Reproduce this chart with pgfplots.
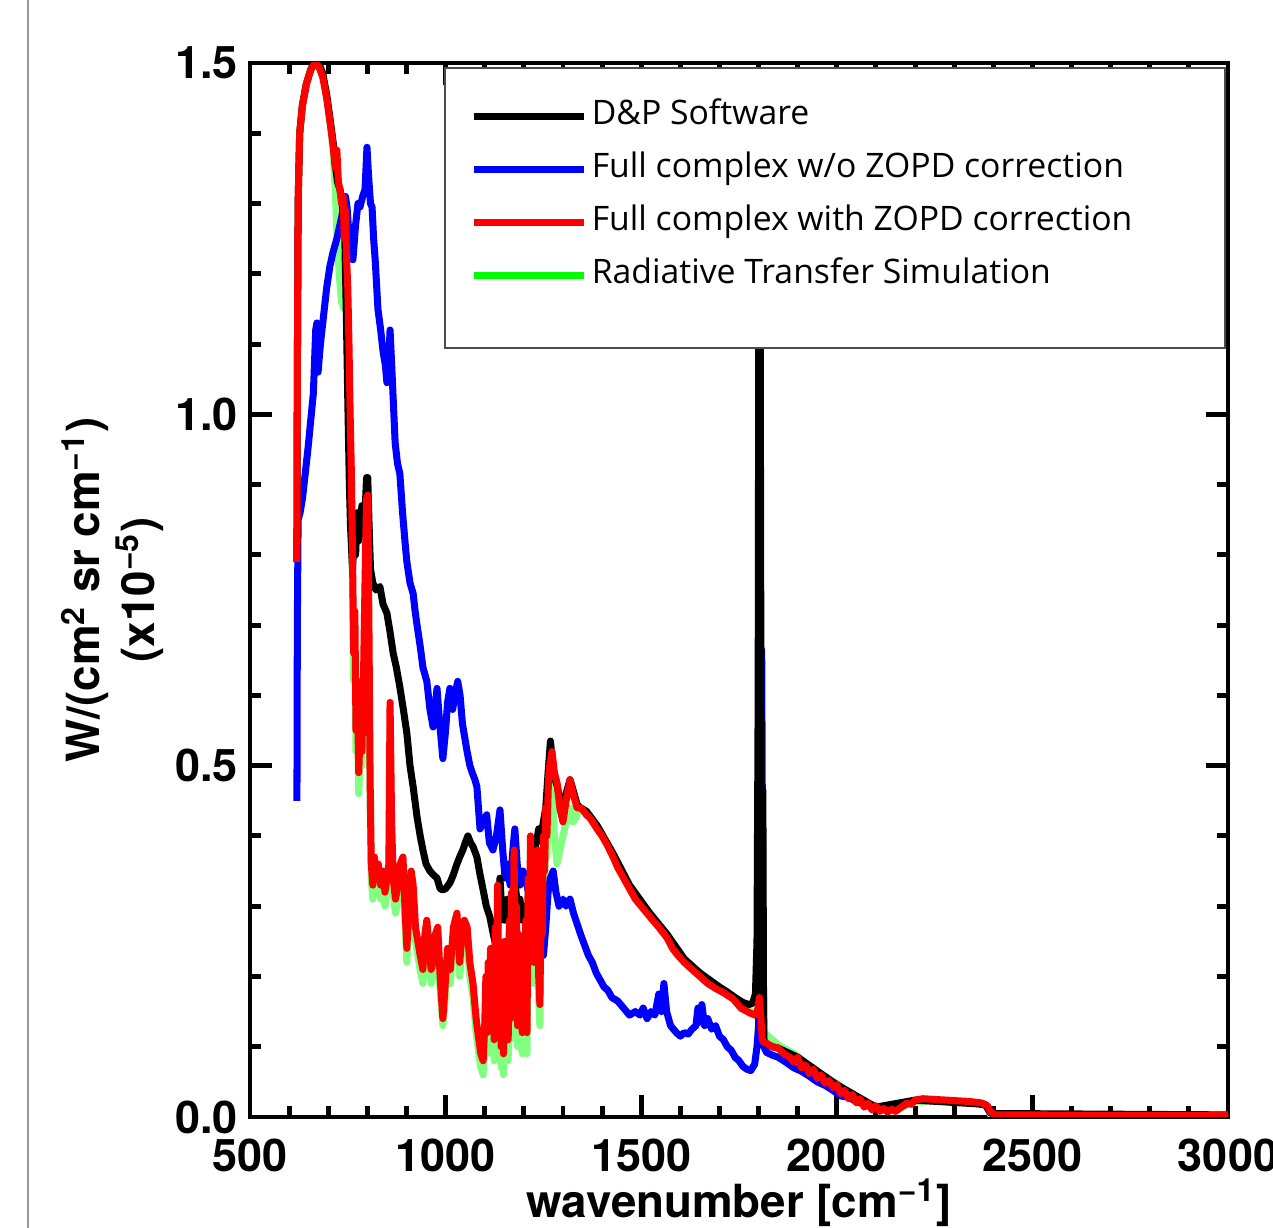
\documentclass[border=0pt]{standalone}
\usepackage{fontspec}
\setmainfont{TeX Gyre Heros}
\newfontfamily\legfont{Open Sans}
\usepackage{pgfplots}
\pgfplotsset{compat=1.18}
\definecolor{rtgreen}{RGB}{128,255,128}
\definecolor{leggreen}{RGB}{0,255,0}
\begin{document}
\begin{tikzpicture}
\path[use as bounding box] (-25mm,-11.1mm) rectangle (102.3mm,111.7mm);
\draw[black!40, line width=0.25mm] (-22.2mm,-11.1mm) -- (-22.2mm,111.7mm);
\begin{axis}[
    at={(0,0)}, anchor=south west,
    scale only axis, width=97.8mm, height=105.4mm,
    xmin=500, xmax=3000, ymin=0, ymax=1.5,
    xtick={500,1000,...,3000}, ytick={0,0.5,1,1.5},
    minor x tick num=4, minor y tick num=4,
    major tick length=2.2mm, minor tick length=1.1mm,
    axis line style={line width=1.4pt},
    tick style={black, line width=1.4pt},
    tick label style={font=\bfseries\fontsize{12.8}{14}\selectfont},
    /pgf/number format/assume math mode=true,
    x tick label style={/pgf/number format/set thousands separator={}, inner ysep=0pt, yshift=-2.1mm},
    y tick label style={/pgf/number format/fixed, /pgf/number format/fixed zerofill, /pgf/number format/precision=1},
    xlabel={wavenumber [cm\smash{\textsuperscript{−1}}]},
    xlabel style={font=\bfseries\fontsize{13}{15}\selectfont, inner ysep=0pt, at={(axis description cs:0.5,-0.095)}, anchor=base},
    ylabel={W/(cm\textsuperscript{2} sr cm\textsuperscript{−1})\\(x10\textsuperscript{−5})},
    ylabel style={font=\bfseries\fontsize{13}{15.6}\selectfont, align=center, at={(axis description cs:-0.141,0.5)}, anchor=center},
    legend style={at={(rel axis cs:0.225,0.965)}, anchor=north west, draw=none, fill=none,
        inner sep=0pt, row sep=2.2mm, column sep=0.4mm,
        font=\legfont\fontsize{9.6}{11.5}\selectfont,
        nodes={inner sep=0pt, text height=2.4mm, text depth=0.7mm}},
    legend cell align=left,
    legend image code/.code={\draw[#1] (0mm,0mm) -- (11mm,0mm);},
    every axis plot/.append style={line width=2pt, line join=round},
]

% Radiative Transfer Simulation
\addplot[rtgreen, forget plot] coordinates {
(620,0.79) (621,1.05) (623,1.30) (627,1.40) (634,1.44) (644,1.47) (655,1.49) (666,1.50) (676,1.495) (686,1.48) (696,1.45) (706,1.41) (713,1.37) (718,1.32) (722,1.26) (728,1.20) (734,1.16) (740,1.15) (745,1.18) (750,1.12) (753,1.02) (756,0.95) (759,0.88) (762,0.76) (765,0.62) (768,0.68) (771,0.52) (774,0.58) (778,0.46) (782,0.53) (786,0.50) (790,0.60) (794,0.74) (798,0.86) (801,0.86) (804,0.66) (807,0.45) (810,0.34) (814,0.31) (818,0.35) (822,0.32) (828,0.34) (834,0.31) (840,0.33) (845,0.30) (850,0.32) (855,0.34) (858,0.55) (862,0.40) (866,0.32) (872,0.29) (878,0.31) (884,0.34) (891,0.35) (896,0.28) (901,0.22) (906,0.28) (912,0.33) (917,0.31) (923,0.25) (929,0.23) (935,0.21) (942,0.19) (947,0.24) (952,0.26) (958,0.22) (963,0.19) (968,0.20) (974,0.24) (980,0.25) (986,0.18) (993,0.13) (998,0.16) (1005,0.22) (1012,0.19) (1020,0.25) (1029,0.28) (1036,0.20) (1042,0.24) (1048,0.26) (1055,0.25) (1062,0.20) (1070,0.17) (1078,0.12) (1085,0.09) (1090,0.07) (1096,0.06) (1100,0.10) (1103,0.18) (1106,0.09) (1109,0.20) (1112,0.12) (1115,0.22) (1118,0.11) (1121,0.18) (1124,0.08) (1127,0.25) (1130,0.15) (1133,0.31) (1136,0.12) (1139,0.20) (1142,0.07) (1145,0.16) (1148,0.06) (1151,0.23) (1154,0.09) (1157,0.18) (1160,0.08) (1163,0.26) (1166,0.11) (1169,0.30) (1172,0.15) (1175,0.36) (1178,0.17) (1181,0.28) (1184,0.10) (1187,0.24) (1190,0.12) (1193,0.20) (1196,0.09) (1199,0.22) (1202,0.11) (1205,0.26) (1208,0.09) (1211,0.32) (1214,0.19) (1217,0.38) (1220,0.22) (1223,0.35) (1226,0.19) (1229,0.34) (1232,0.25) (1235,0.36) (1238,0.17) (1241,0.13) (1244,0.28) (1247,0.23) (1250,0.38) (1253,0.32) (1256,0.42) (1259,0.37) (1263,0.45) (1266,0.46) (1272,0.48) (1278,0.40) (1285,0.36) (1292,0.38) (1300,0.40) (1308,0.42) (1318,0.44) (1326,0.42) (1336,0.43) (1345,0.44) (1360,0.435) (1387,0.415) (1428,0.375) (1470,0.33) (1522,0.29) (1566,0.26) (1610,0.225) (1650,0.205) (1700,0.183) (1750,0.163) (1790,0.148) (1800,0.14) (1815,0.12) (1850,0.103) (1900,0.087) (1950,0.06) (2000,0.048) (2050,0.025) (2100,0.015) (2150,0.01) (2200,0.022) (2250,0.023) (2300,0.022) (2370,0.019) (2385,0.014) (2393,0.003) (2405,0.0) (3000,0.0)
};

% Full complex w/o ZOPD correction
\addplot[blue, forget plot] coordinates {
(620,0.45) (621,0.70) (623,0.85) (628,0.86) (634,0.88) (640,0.91) (648,0.95) (655,0.99) (662,1.03) (668,1.12) (671,1.13) (674,1.06) (680,1.10) (688,1.14) (696,1.18) (704,1.21) (712,1.23) (722,1.25) (730,1.27) (738,1.29) (744,1.31) (748,1.295) (755,1.24) (763,1.22) (770,1.27) (776,1.30) (781,1.295) (788,1.31) (794,1.32) (799,1.38) (803,1.34) (808,1.30) (812,1.295) (816,1.25) (820,1.22) (827,1.15) (834,1.12) (840,1.09) (846,1.07) (850,1.045) (855,1.08) (858,1.12) (863,1.06) (871,0.96) (877,0.93) (883,0.916) (890,0.86) (896,0.82) (901,0.79) (909,0.76) (917,0.745) (922,0.72) (927,0.70) (935,0.67) (942,0.64) (947,0.63) (952,0.62) (960,0.58) (968,0.555) (973,0.58) (978,0.61) (985,0.56) (993,0.51) (1000,0.55) (1005,0.59) (1011,0.61) (1018,0.58) (1024,0.60) (1031,0.62) (1037,0.60) (1043,0.56) (1049,0.54) (1055,0.52) (1062,0.50) (1068,0.49) (1075,0.48) (1080,0.47) (1088,0.41) (1096,0.42) (1105,0.43) (1112,0.39) (1121,0.38) (1130,0.40) (1139,0.437) (1146,0.38) (1152,0.34) (1157,0.36) (1165,0.33) (1172,0.38) (1177,0.41) (1183,0.36) (1190,0.33) (1198,0.35) (1208,0.33) (1215,0.31) (1222,0.34) (1230,0.29) (1238,0.28) (1244,0.25) (1250,0.23) (1256,0.27) (1262,0.32) (1268,0.34) (1275,0.35) (1282,0.32) (1290,0.30) (1300,0.31) (1308,0.30) (1318,0.31) (1327,0.29) (1336,0.275) (1345,0.26) (1355,0.245) (1365,0.23) (1375,0.22) (1385,0.205) (1395,0.195) (1405,0.185) (1415,0.18) (1425,0.17) (1440,0.165) (1455,0.155) (1470,0.145) (1485,0.15) (1497,0.145) (1505,0.155) (1515,0.14) (1525,0.15) (1535,0.145) (1545,0.175) (1552,0.15) (1558,0.19) (1565,0.15) (1575,0.13) (1590,0.12) (1600,0.115) (1610,0.12) (1620,0.118) (1630,0.125) (1640,0.13) (1645,0.155) (1650,0.135) (1655,0.16) (1662,0.13) (1670,0.14) (1680,0.125) (1690,0.13) (1700,0.115) (1710,0.11) (1720,0.10) (1730,0.095) (1740,0.085) (1750,0.08) (1760,0.072) (1770,0.068) (1780,0.066) (1790,0.075) (1796,0.10) (1800,0.13) (1804,0.35) (1808,0.665) (1811,0.25) (1814,0.10) (1820,0.092) (1835,0.088) (1850,0.085) (1870,0.078) (1890,0.07) (1910,0.065) (1930,0.058) (1950,0.05) (1970,0.045) (1990,0.038) (2010,0.03) (2030,0.028) (2050,0.022) (2070,0.018) (2090,0.014) (2110,0.012) (2130,0.014) (2150,0.012) (2170,0.016) (2190,0.022) (2210,0.024) (2250,0.024) (2300,0.022) (2350,0.02) (2380,0.017) (2392,0.006) (2410,0.002) (3000,0.002)
};

% D&P Software
\addplot[black, forget plot] coordinates {
(620,0.79) (621,1.05) (623,1.30) (627,1.40) (634,1.44) (644,1.47) (655,1.49) (666,1.505) (676,1.50) (686,1.485) (696,1.455) (706,1.415) (713,1.385) (718,1.355) (724,1.33) (730,1.32) (736,1.30) (742,1.26) (746,1.15) (750,1.02) (754,0.90) (757,0.84) (762,0.78) (766,0.82) (770,0.80) (774,0.86) (778,0.82) (782,0.84) (786,0.87) (790,0.83) (794,0.86) (798,0.91) (801,0.91) (804,0.85) (808,0.78) (814,0.76) (822,0.75) (832,0.755) (840,0.73) (850,0.717) (858,0.69) (866,0.66) (874,0.64) (883,0.612) (892,0.58) (901,0.546) (909,0.50) (917,0.47) (927,0.427) (935,0.40) (942,0.38) (950,0.36) (960,0.35) (968,0.345) (978,0.34) (986,0.325) (993,0.323) (1000,0.325) (1011,0.333) (1020,0.345) (1029,0.36) (1036,0.37) (1044,0.38) (1050,0.39) (1057,0.40) (1064,0.39) (1070,0.385) (1080,0.37) (1088,0.345) (1096,0.323) (1104,0.30) (1113,0.285) (1122,0.26) (1131,0.238) (1135,0.30) (1139,0.34) (1143,0.30) (1150,0.28) (1158,0.31) (1166,0.28) (1172,0.30) (1178,0.33) (1184,0.30) (1190,0.31) (1196,0.28) (1202,0.30) (1208,0.27) (1214,0.32) (1220,0.37) (1226,0.38) (1232,0.39) (1238,0.41) (1244,0.40) (1250,0.42) (1256,0.44) (1262,0.49) (1268,0.535) (1274,0.50) (1280,0.48) (1286,0.47) (1292,0.45) (1300,0.44) (1308,0.46) (1318,0.48) (1326,0.465) (1336,0.445) (1345,0.44) (1360,0.435) (1387,0.415) (1428,0.375) (1470,0.33) (1522,0.29) (1566,0.26) (1610,0.225) (1650,0.205) (1700,0.185) (1720,0.178) (1740,0.17) (1760,0.163) (1775,0.16) (1785,0.162) (1792,0.175) (1796,0.25) (1799,0.6) (1801,1.3) (1803,1.45) (1805,0.9) (1807,0.35) (1809,0.12) (1811,0.465) (1813,0.11) (1818,0.105) (1835,0.10) (1850,0.098) (1900,0.085) (2000,0.046) (2100,0.014) (2200,0.024) (2380,0.018) (2395,0.005) (3000,0.003)
};

% Full complex with ZOPD correction
\addplot[red, forget plot] coordinates {
(620,0.79) (621,1.05) (623,1.30) (627,1.40) (634,1.44) (644,1.47) (655,1.49) (666,1.50) (676,1.495) (686,1.48) (696,1.45) (706,1.41) (713,1.38) (718,1.35) (722,1.376) (726,1.33) (730,1.32) (734,1.30) (738,1.31) (741,1.25) (744,1.29) (747,1.22) (750,1.18) (753,1.10) (756,1.00) (759,0.92) (762,0.80) (765,0.66) (768,0.72) (771,0.55) (774,0.62) (778,0.49) (782,0.56) (786,0.52) (790,0.62) (794,0.76) (798,0.88) (801,0.885) (804,0.70) (807,0.48) (810,0.36) (814,0.33) (818,0.37) (822,0.34) (828,0.36) (834,0.33) (840,0.35) (845,0.32) (850,0.34) (855,0.36) (858,0.59) (862,0.42) (866,0.34) (872,0.31) (878,0.33) (884,0.36) (891,0.37) (896,0.30) (901,0.24) (906,0.30) (912,0.35) (917,0.33) (923,0.27) (929,0.25) (935,0.23) (942,0.21) (947,0.26) (952,0.28) (958,0.24) (963,0.21) (968,0.22) (974,0.26) (980,0.27) (986,0.20) (993,0.14) (998,0.18) (1005,0.24) (1012,0.21) (1020,0.27) (1029,0.29) (1036,0.22) (1042,0.26) (1048,0.28) (1055,0.27) (1062,0.22) (1070,0.19) (1078,0.14) (1085,0.11) (1090,0.09) (1096,0.08) (1100,0.13) (1103,0.20) (1106,0.12) (1109,0.22) (1112,0.15) (1115,0.24) (1118,0.14) (1121,0.20) (1124,0.11) (1127,0.27) (1130,0.18) (1133,0.33) (1136,0.15) (1139,0.22) (1142,0.10) (1145,0.18) (1148,0.09) (1151,0.25) (1154,0.12) (1157,0.20) (1160,0.11) (1163,0.28) (1166,0.14) (1169,0.32) (1172,0.18) (1175,0.38) (1178,0.20) (1181,0.30) (1184,0.13) (1187,0.26) (1190,0.15) (1193,0.22) (1196,0.12) (1199,0.24) (1202,0.14) (1205,0.28) (1208,0.12) (1211,0.34) (1214,0.22) (1217,0.40) (1220,0.25) (1223,0.37) (1226,0.22) (1229,0.36) (1232,0.28) (1235,0.38) (1238,0.20) (1241,0.16) (1244,0.30) (1247,0.26) (1250,0.40) (1253,0.35) (1256,0.44) (1259,0.40) (1263,0.48) (1266,0.50) (1272,0.52) (1278,0.49) (1285,0.475) (1292,0.44) (1300,0.42) (1308,0.45) (1318,0.48) (1326,0.46) (1336,0.44) (1345,0.44) (1351,0.437) (1360,0.43) (1370,0.425) (1387,0.41) (1400,0.40) (1415,0.385) (1428,0.37) (1440,0.355) (1455,0.34) (1470,0.325) (1485,0.31) (1500,0.30) (1522,0.285) (1545,0.27) (1566,0.255) (1580,0.24) (1591,0.232) (1610,0.22) (1630,0.21) (1650,0.20) (1670,0.19) (1690,0.183) (1710,0.177) (1735,0.168) (1755,0.155) (1778,0.148) (1791,0.145) (1797,0.15) (1802,0.17) (1806,0.14) (1810,0.108) (1820,0.105) (1835,0.10) (1850,0.098) (1865,0.09) (1880,0.085) (1890,0.078) (1900,0.085) (1910,0.07) (1920,0.074) (1930,0.062) (1940,0.068) (1950,0.055) (1960,0.06) (1970,0.048) (1980,0.052) (1990,0.042) (2000,0.046) (2010,0.033) (2020,0.038) (2030,0.026) (2040,0.032) (2050,0.02) (2060,0.026) (2070,0.014) (2080,0.02) (2090,0.01) (2100,0.016) (2110,0.008) (2120,0.012) (2130,0.007) (2140,0.011) (2150,0.008) (2160,0.012) (2170,0.016) (2180,0.02) (2190,0.018) (2200,0.024) (2220,0.026) (2250,0.025) (2280,0.024) (2310,0.023) (2340,0.022) (2370,0.02) (2385,0.016) (2393,0.007) (2405,0.003) (2500,0.003) (2700,0.002) (2900,0.002) (3000,0.003)
};

% legend box
\draw[fill=white, draw=black!70, line width=0.4pt] (rel axis cs:0.1994,0.9953) rectangle (rel axis cs:0.9969,0.7296);

\addlegendimage{black, line width=2pt}
\addlegendentry{D\&P Software}
\addlegendimage{blue, line width=2pt}
\addlegendentry{Full complex w/o ZOPD correction}
\addlegendimage{red, line width=2pt}
\addlegendentry{Full complex with ZOPD correction}
\addlegendimage{leggreen, line width=2pt}
\addlegendentry{Radiative Transfer Simulation}
\end{axis}
\end{tikzpicture}
\end{document}
